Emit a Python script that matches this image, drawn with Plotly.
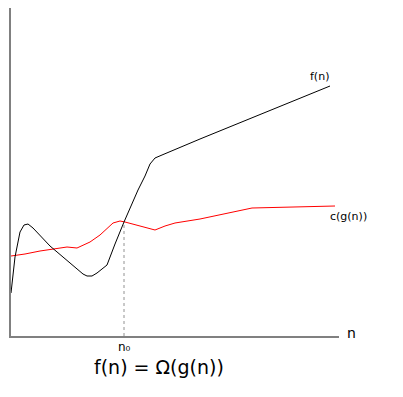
import plotly.graph_objects as go

# Curve values (n, value)
f_n = [0, 4, 9, 13, 17, 22, 39, 59, 72, 76, 81, 86, 96, 104, 113, 127, 134, 139, 144, 151, 189, 319]
f_v = [43, 79, 104, 111, 112, 108, 90, 73, 62, 60, 60, 63, 71, 92, 114, 146, 160, 172, 178, 181, 197, 250]

g_n = [0, 14, 29, 44, 56, 66, 79, 89, 102, 109, 114, 129, 144, 154, 164, 189, 241, 324]
g_v = [80, 82, 85, 87, 89, 88, 94, 101, 113, 115, 114, 110, 106, 110, 113, 117, 128, 130]

n0 = 113
n0_val = 114

fig = go.Figure()
fig.add_trace(go.Scatter(x=[n0, n0], y=[0, n0_val], mode="lines",
                         line=dict(color="#777777", width=0.8, dash="dot"), hoverinfo="skip"))
fig.add_trace(go.Scatter(x=g_n, y=g_v, mode="lines", line=dict(color="#ff0000", width=1)))
fig.add_trace(go.Scatter(x=f_n, y=f_v, mode="lines", line=dict(color="#000000", width=1)))

font = "DejaVu Sans, Verdana, sans-serif"
fig.add_annotation(x=f_n[-1], y=f_v[-1], text="f(n)", showarrow=False,
                   xanchor="right", yanchor="bottom", xshift=1, yshift=1,
                   font=dict(size=11, color="#000", family=font))
fig.add_annotation(x=g_n[-1], y=g_v[-1], text="c(g(n))", showarrow=False,
                   xanchor="center", yanchor="top", xshift=13, yshift=-2,
                   font=dict(size=11, color="#000", family=font))
fig.add_annotation(x=n0, y=0, text="n₀", showarrow=False,
                   xanchor="center", yanchor="top", yshift=-2,
                   font=dict(size=12, color="#000", family=font))
fig.add_annotation(x=1, y=0, xref="paper", text="n", showarrow=False,
                   xanchor="left", yanchor="middle", xshift=6, yshift=3,
                   font=dict(size=14, color="#000", family=font))
fig.add_annotation(x=148, y=0, text="f(n) = Ω(g(n))", showarrow=False,
                   xanchor="center", yanchor="top", yshift=-18,
                   font=dict(size=19, color="#000", family=font))

fig.update_layout(
    width=403, height=397,
    margin=dict(l=11, r=64, t=8, b=61),
    paper_bgcolor="white", plot_bgcolor="white",
    showlegend=False,
    xaxis=dict(range=[0, 328], showline=True, linecolor="#808080", linewidth=2,
               showgrid=False, zeroline=False, showticklabels=False, ticks=""),
    yaxis=dict(range=[0, 328], showline=True, linecolor="#808080", linewidth=2,
               showgrid=False, zeroline=False, showticklabels=False, ticks=""),
)
fig.write_html("out.html")
